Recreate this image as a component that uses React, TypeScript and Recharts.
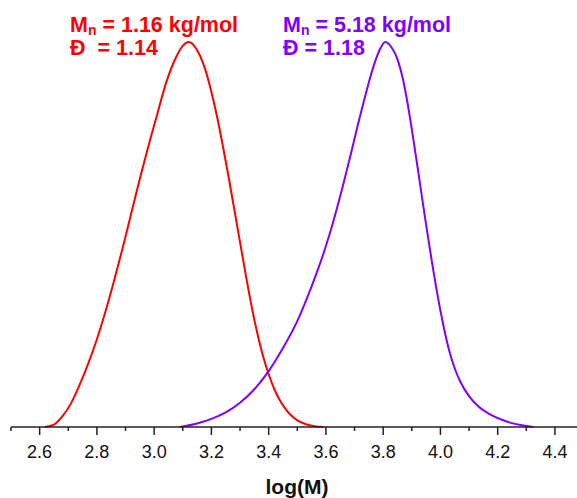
import React from "react";
import { LineChart, Line, XAxis, YAxis } from "recharts";

// Red sample (Mn = 1.16 kg/mol)
const redLogM = [2.619, 2.65, 2.68, 2.71, 2.74, 2.77, 2.8, 2.83, 2.86, 2.89, 2.92, 2.95, 2.98, 3.01, 3.04, 3.07, 3.1, 3.12, 3.14, 3.16, 3.18, 3.2, 3.22, 3.24, 3.26, 3.28, 3.3, 3.32, 3.34, 3.36, 3.38, 3.4, 3.42, 3.44, 3.46, 3.48, 3.5, 3.53, 3.56, 3.591];
const redSignal = [0, 0.006, 0.028, 0.062, 0.11, 0.165, 0.228, 0.3, 0.38, 0.465, 0.555, 0.645, 0.73, 0.81, 0.89, 0.95, 0.99, 1.0, 0.99, 0.965, 0.925, 0.87, 0.805, 0.73, 0.65, 0.565, 0.48, 0.395, 0.315, 0.245, 0.185, 0.137, 0.098, 0.068, 0.046, 0.029, 0.017, 0.007, 0.002, 0];

// Purple sample (Mn = 5.18 kg/mol)
const purpleLogM = [3.09, 3.15, 3.2, 3.25, 3.3, 3.35, 3.4, 3.45, 3.5, 3.55, 3.6, 3.625, 3.65, 3.68, 3.72, 3.75, 3.77, 3.79, 3.807, 3.83, 3.85, 3.87, 3.89, 3.91, 3.93, 3.95, 3.97, 3.99, 4.01, 4.03, 4.05, 4.07, 4.1, 4.13, 4.17, 4.21, 4.25, 4.29, 4.325];
const purpleSignal = [0, 0.009, 0.021, 0.038, 0.063, 0.098, 0.145, 0.205, 0.275, 0.365, 0.47, 0.532, 0.6, 0.688, 0.81, 0.895, 0.945, 0.983, 1.0, 0.985, 0.955, 0.9, 0.82, 0.725, 0.625, 0.525, 0.43, 0.342, 0.265, 0.2, 0.152, 0.117, 0.08, 0.055, 0.034, 0.02, 0.01, 0.004, 0];

const majorTicks = [2.6, 2.8, 3.0, 3.2, 3.4, 3.6, 3.8, 4.0, 4.2, 4.4];
const minorTicks = [2.5, 2.7, 2.9, 3.1, 3.3, 3.5, 3.7, 3.9, 4.1, 4.3];
const allTicks = [...majorTicks, ...minorTicks].sort((a, b) => a - b);

const redData = redLogM.map((x, i) => ({ x, y: redSignal[i] }));
const purpleData = purpleLogM.map((x, i) => ({ x, y: purpleSignal[i] }));

const RED = "#ff0000";
const PURPLE = "#8000ff";
const FONT = "Arial, 'Liberation Sans', sans-serif";

const isMajor = (v: number) => majorTicks.some((t) => Math.abs(t - v) < 1e-6);

const Tick = (props: any) => {
  const { x, y, payload } = props;
  const major = isMajor(payload.value);
  return (
    <g>
      <line x1={x} x2={x} y1={y} y2={y + (major ? 8 : 4)} stroke="#222" strokeWidth={1.5} />
      {major && (
        <text x={x} y={y + 31} textAnchor="middle" fontSize={18} fontFamily={FONT} fill="#111">
          {payload.value.toFixed(1)}
        </text>
      )}
    </g>
  );
};

export default function App() {
  return (
    <div style={{ position: "absolute", left: 0, top: 0, width: 577, height: 498, background: "#fff" }}>
      <LineChart width={577} height={498} margin={{ top: 22.75, right: 0, bottom: 0, left: 11 }}>
        <XAxis
          type="number"
          dataKey="x"
          domain={[2.5, 4.477]}
          allowDataOverflow
          ticks={allTicks}
          interval={0}
          tickSize={0}
          tickMargin={0}
          tickLine={false}
          tick={<Tick />}
          height={71}
          axisLine={{ stroke: "#222", strokeWidth: 1.5 }}
        />
        <YAxis type="number" domain={[0, 1.05]} hide />
        <Line data={redData} dataKey="y" type="monotone" stroke={RED} strokeWidth={2} dot={false} isAnimationActive={false} />
        <Line data={purpleData} dataKey="y" type="monotone" stroke={PURPLE} strokeWidth={2} dot={false} isAnimationActive={false} />
        <text x={70} y={31.5} fontSize={21.5} fontWeight="bold" fontFamily={FONT} fill={RED}>
          M<tspan fontSize={14} dy={3}>n</tspan><tspan dy={-3}> = 1.16 kg/mol</tspan>
        </text>
        <text x={70} y={55} fontSize={21.5} fontWeight="bold" fontFamily={FONT} fill={RED} style={{ whiteSpace: "pre" }}>
          {"Đ  = 1.14"}
        </text>
        <text x={283} y={31.5} fontSize={21.5} fontWeight="bold" fontFamily={FONT} fill={PURPLE}>
          M<tspan fontSize={14} dy={3}>n</tspan><tspan dy={-3}> = 5.18 kg/mol</tspan>
        </text>
        <text x={283} y={55} fontSize={21.5} fontWeight="bold" fontFamily={FONT} fill={PURPLE}>
          {"Đ = 1.18"}
        </text>
        <text x={297} y={494} textAnchor="middle" fontSize={21} fontWeight="bold" fontFamily={FONT} fill="#111">
          log(M)
        </text>
      </LineChart>
    </div>
  );
}
